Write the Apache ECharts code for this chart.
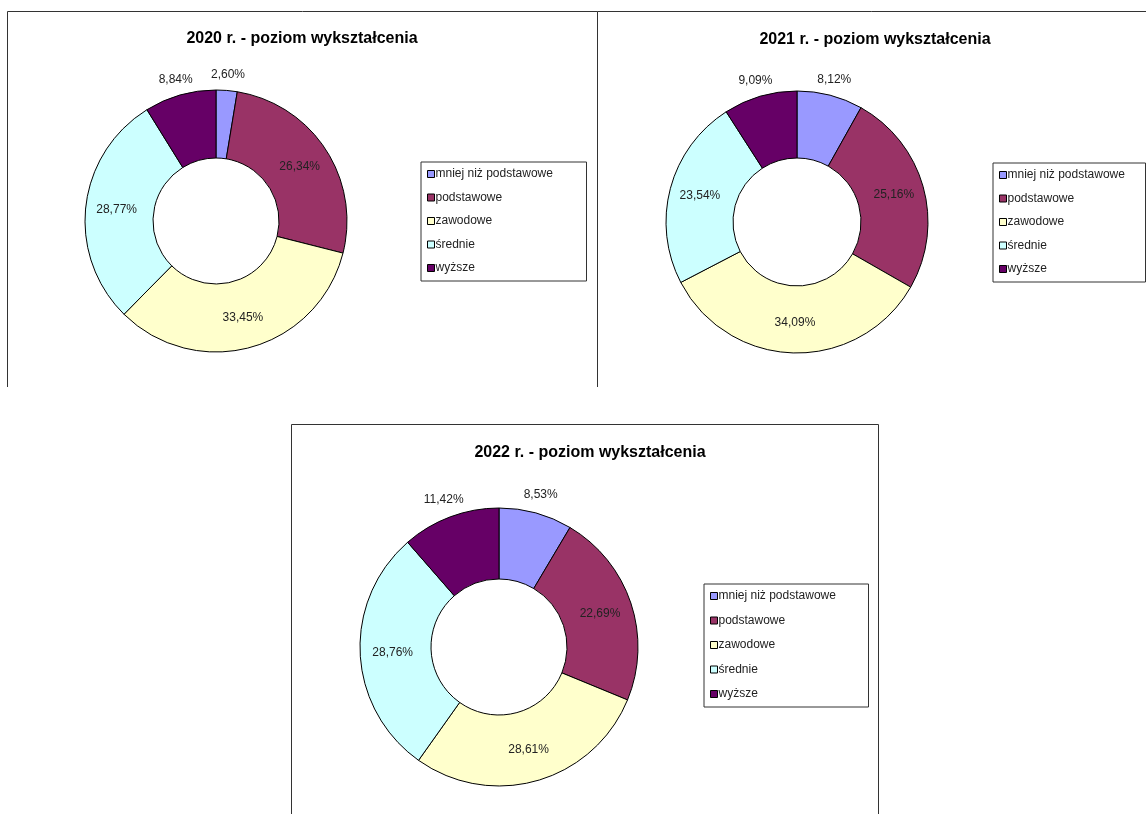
<!DOCTYPE html>
<html>
<head>
<meta charset="utf-8">
<script src="https://cdn.jsdelivr.net/npm/echarts@6/dist/echarts.min.js"></script>
<style>
html,body{margin:0;padding:0;background:#fff;}
#main{width:1146px;height:814px;}
</style>
</head>
<body>
<div id="main"></div>
<script>
const categories = ['mniej niż podstawowe', 'podstawowe', 'zawodowe', 'średnie', 'wyższe'];
const colors = ['#9999FF', '#993366', '#FFFFCC', '#CCFFFF', '#660066'];
const years = ['2020', '2021', '2022'];
const values2020 = [2.60, 26.34, 33.45, 28.77, 8.84];
const values2021 = [8.12, 25.16, 34.09, 23.54, 9.09];
const values2022 = [8.53, 22.69, 28.61, 28.76, 11.42];
const outsideLabels = ['mniej niż podstawowe', 'wyższe'];

const allValues = [values2020, values2021, values2022];
const FONT = 'Arial, "Liberation Sans", sans-serif';

// layout per chart
const layouts = [
  {center: [216, 221], radius: [63, 131], outerRing: [131, 157], title: [297, 26], legend: {left: 421, top: 162, gap: 9.5, tw: 147}},
  {center: [797, 222], radius: [64, 131], outerRing: [131, 158], title: [870, 27], legend: {left: 993, top: 163, gap: 9.5, tw: 134}},
  {center: [499, 647], radius: [68, 139], outerRing: [139, 170], title: [585, 440], legend: {left: 704, top: 584, gap: 10.5, tw: 146}}
];

function fmt(v) { return v.toFixed(2).replace('.', ',') + '%'; }

const titles = [], legends = [], series = [], labelSeries = [];
years.forEach((y, i) => {
  const L = layouts[i];
  titles.push({
    text: y + ' r. - poziom wykształcenia',
    left: L.title[0], top: L.title[1], textAlign: 'center',
    textStyle: {fontFamily: FONT, fontSize: 16, fontWeight: 'bold', color: '#000'}
  });
  legends.push({
    orient: 'vertical', left: L.legend.left, top: L.legend.top,
    icon: 'rect', itemWidth: 7, itemHeight: 7, itemGap: L.legend.gap,
    selectedMode: false,
    backgroundColor: '#fff', borderColor: '#333', borderWidth: 1,
    padding: [5, 4, 6, 6],
    itemStyle: {borderColor: '#000', borderWidth: 1},
    textStyle: {fontFamily: FONT, fontSize: 12, color: '#222', lineHeight: 14, width: L.legend.tw, padding: [0, 0, 0, -4]},
    data: categories.slice()
  });
  const vals = allValues[i];
  series.push({
    type: 'pie', name: y, center: L.center, radius: L.radius,
    startAngle: 90, clockwise: true, avoidLabelOverlap: false,
    silent: true, animation: false,
    itemStyle: {borderColor: '#000', borderWidth: 1},
    label: {show: true, position: 'inside', fontFamily: FONT, fontSize: 12, color: '#222',
            padding: [4, 0, 0, 0],
            formatter: p => fmt(p.value)},
    labelLine: {show: false},
    data: categories.map((c, k) => ({
      name: c, value: vals[k], itemStyle: {color: colors[k]},
      label: {show: outsideLabels.indexOf(c) < 0}
    }))
  });
  labelSeries.push({
    type: 'pie', name: y + '-labels', center: L.center, radius: L.outerRing,
    startAngle: 90, clockwise: true, avoidLabelOverlap: false,
    silent: true, animation: false, legendHoverLink: false,
    itemStyle: {color: 'rgba(0,0,0,0)', borderWidth: 0},
    emphasis: {disabled: true},
    label: {show: true, position: 'inside', fontFamily: FONT, fontSize: 12, color: '#222',
            padding: [4, 0, 0, 0],
            formatter: p => fmt(p.value)},
    labelLine: {show: false},
    data: categories.map((c, k) => ({
      name: c, value: vals[k],
      label: {show: outsideLabels.indexOf(c) >= 0}
    }))
  });
});

const lineStyle = {stroke: '#333', lineWidth: 1, fill: null};
const graphic = [
  {type: 'polyline', shape: {points: [[7.5, 387], [7.5, 11.5], [597.5, 11.5], [597.5, 387]]}, style: lineStyle, silent: true},
  {type: 'polyline', shape: {points: [[597.5, 11.5], [1146, 11.5]]}, style: lineStyle, silent: true},
  {type: 'polyline', shape: {points: [[291.5, 814], [291.5, 424.5], [878.5, 424.5], [878.5, 814]]}, style: lineStyle, silent: true}
];

const chart = echarts.init(document.getElementById('main'), null, {renderer: 'canvas'});
chart.setOption({
  animation: false,
  backgroundColor: '#fff',
  color: colors,
  title: titles,
  legend: legends,
  graphic: graphic,
  series: series.concat(labelSeries)
});
</script>
</body>
</html>
